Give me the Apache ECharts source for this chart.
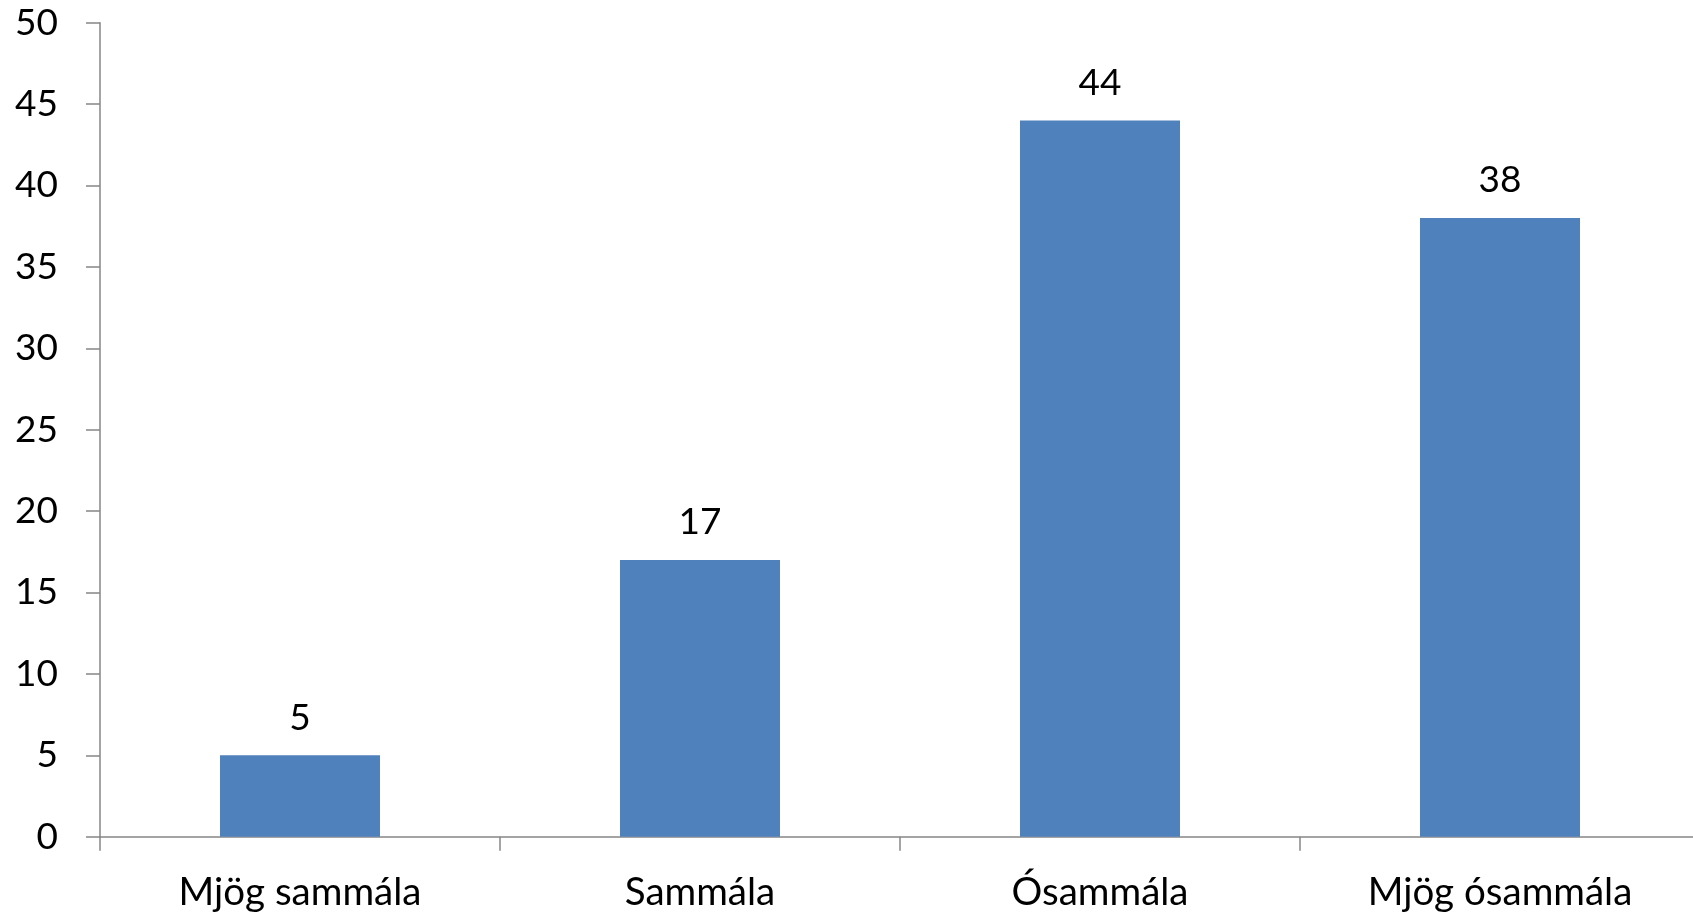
<!DOCTYPE html>
<html><head><meta charset="utf-8">
<script src="https://cdn.jsdelivr.net/npm/echarts@6/dist/echarts.min.js"></script>
<style>html,body{margin:0;padding:0;background:#fff}#c{width:1693px;height:915px}</style>
</head><body><div id="c"></div>
<script>
const categories = ['Mjög sammála', 'Sammála', 'Ósammála', 'Mjög ósammála'];
const values = [5, 17, 44, 38];
const yTicks = { min: 0, max: 50, interval: 5 };

const font = 'Lato, "Open Sans", sans-serif';
const axisColor = '#868686';
const chart = echarts.init(document.getElementById('c'));
chart.setOption({
  animation: false,
  grid: { left: 100, width: 1600, top: 22.7, bottom: 78.3, containLabel: false, outerBoundsMode: 'none' },
  xAxis: {
    type: 'category', data: categories,
    axisLine: { lineStyle: { color: axisColor, width: 1.5 } },
    axisTick: { show: true, length: 14, lineStyle: { color: axisColor, width: 1.5 } },
    axisLabel: { color: '#000', fontSize: 38.5, fontFamily: font, margin: 36 }
  },
  yAxis: {
    type: 'value', min: yTicks.min, max: yTicks.max, interval: yTicks.interval,
    splitLine: { show: false },
    axisLine: { show: true, lineStyle: { color: axisColor, width: 1.5 } },
    axisTick: { show: true, length: 14, lineStyle: { color: axisColor, width: 1.5 } },
    axisLabel: { color: '#000', fontSize: 37, fontFamily: font, margin: 42 }
  },
  series: [{
    type: 'bar', data: values, barWidth: '40%',
    itemStyle: { color: '#4F81BD' },
    label: { show: true, position: 'top', distance: 19, color: '#000', fontSize: 37, fontFamily: font }
  }]
});
</script></body></html>
